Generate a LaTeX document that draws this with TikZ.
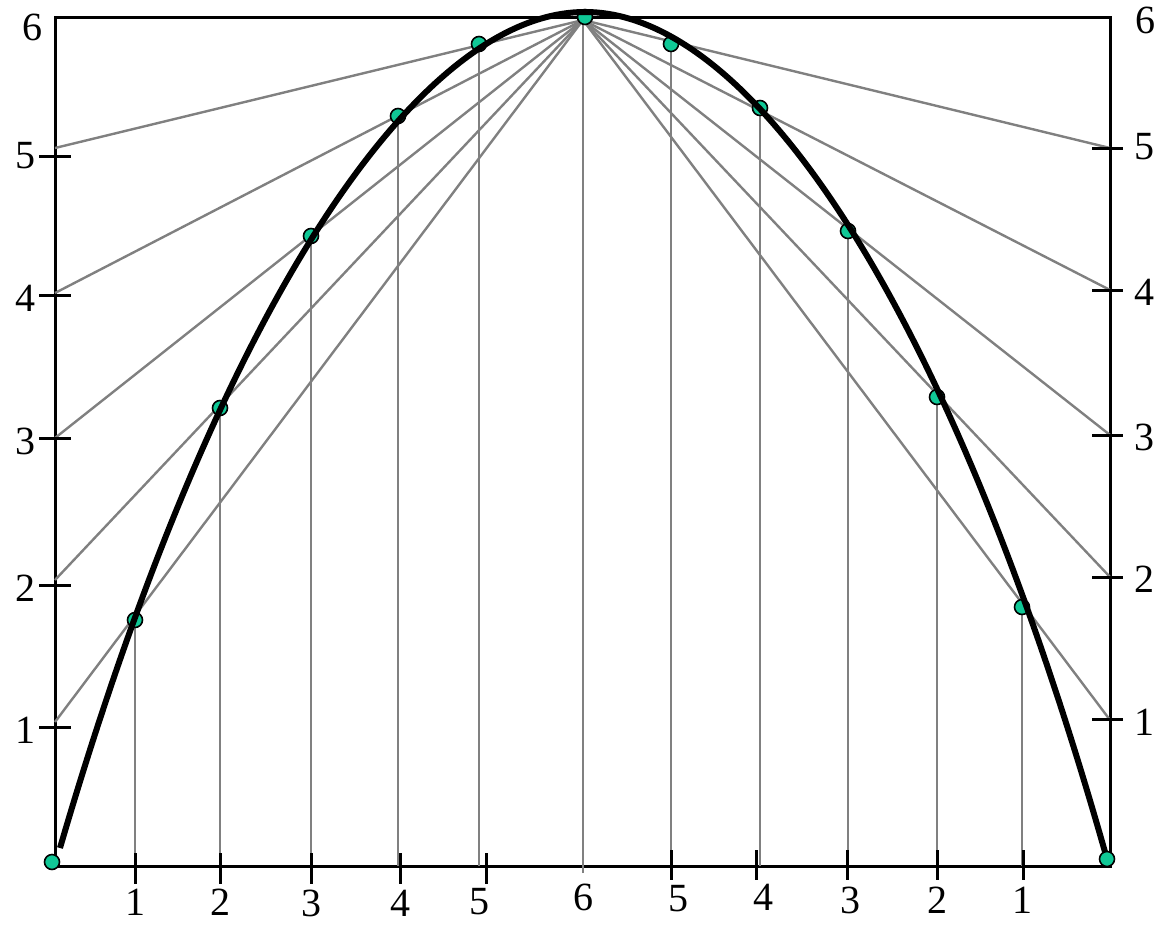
\documentclass[tikz,border=0pt]{standalone}
\usepackage{fontspec}
\setmainfont{Liberation Serif}
\usepackage{xcolor}
\usepackage{tikz}
\usetikzlibrary{positioning}
\definecolor{dotgreen}{RGB}{16,200,150}

\begin{document}
\begin{tikzpicture}[x=1pt,y=-1pt,
        frame/.style={line width=3pt},
        ray/.style={draw=gray,line width=2.4pt},
        curve/.style={line width=6pt,line join=miter},
        dot/.style={circle,draw=black,fill=dotgreen,line width=1.6pt,minimum size=15pt,inner sep=0pt},
        num/.style={font=\fontsize{40}{40}\selectfont,inner sep=0pt}]
        \useasboundingbox (0,0) rectangle (1169,924);
        % points on the frame
        \coordinate (apex) at (583,20);
        \coordinate (base) at (583,873);
        \foreach \n/\y in {1/722,2/580,3/438,4/293,5/148}
        \coordinate (l\n) at (55,\y);
        \foreach \n/\y in {1/720,2/577,3/435,4/290,5/148}
        \coordinate (r\n) at (1110,\y);
        \foreach \n/\x/\y in {1/135/620,2/220/408,3/311/236,4/398/116,5/479/44}{
        \coordinate (bl\n) at (\x,866);
        \coordinate (pl\n) at (\x,\y);}
        \foreach \n/\x/\y in {1/1022/607,2/937/397,3/848/231,4/760/108,5/671/44}{
        \coordinate (br\n) at (\x,866);
        \coordinate (pr\n) at (\x,\y);}
        \draw[frame] (55,17) rectangle (1110,866);
        % rays and verticals
        \foreach \n in {1,...,5}{
        \draw[ray] (apex) -- (l\n);
        \draw[ray] (apex) -- (r\n);
        \draw[ray] (bl\n) -- (pl\n);
        \draw[ray] (br\n) -- (pr\n);}
        \draw[ray] (base) -- (apex);
        % ticks
        \foreach \y in {156,295,438,585,727}
        \draw[frame] (39,\y) -- (71,\y);
        \foreach \y in {148,290,435,577,719}
        \draw[frame] (1092,\y) -- (1123,\y);
        \foreach \x in {135,220,311,400,486}
        \draw[frame] (\x,853) -- (\x,884);
        \foreach \x in {671,756,847,937,1023}
        \draw[frame] (\x,850) -- (\x,880);
        % dots
        \foreach \n in {1,...,5}{
        \node[dot] (dl\n) at (pl\n) {};
        \node[dot] (dr\n) at (pr\n) {};}
        \node[dot] (top) at (585,17) {};
        \node[dot] (cornerl) at (52,862) {};
        \node[dot] (cornerr) at (1107,859) {};
        \draw[curve] (60,848) .. controls (220,300) and (420,12) .. (585,12)
            .. controls (750,12) and (948,300) .. (1105,852);
        % numbers
        \node[num] (yl6) at (33,27) {6};
        \foreach \n/\y in {1/730,2/588,3/441,4/298,5/156}
        \node[num] (yl\n) at (25,\y) {\n};
        \node[num] (yr6) at (1145,20) {6};
        \foreach \n/\y in {1/722,2/579,3/437,4/292,5/147}
        \node[num] (yr\n) at (1144,\y) {\n};
        \foreach \n/\x/\y in {1/135/902,2/220/902,3/311/903,4/400/903,5/479/902}
        \node[num] (xl\n) at (\x,\y) {\n};
        \node[num] (x6) at (583,897) {6};
        \foreach \n/\x/\y in {1/1022/900,2/937/900,3/850/900,4/763/897,5/678/899}
        \node[num] (xr\n) at (\x,\y) {\n};
\end{tikzpicture}
\end{document}
